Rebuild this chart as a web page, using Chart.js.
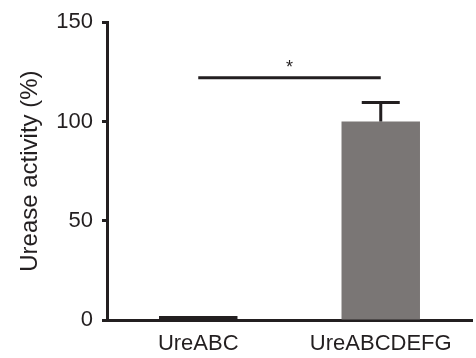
<!DOCTYPE html>
<html>
<head>
<meta charset="utf-8">
<script src="https://cdn.jsdelivr.net/npm/chart.js@4/dist/chart.umd.min.js"></script>
<style>
  html, body { margin: 0; padding: 0; background: #fff; }
  #wrap { width: 476px; height: 358px; }
</style>
</head>
<body>
<div id="wrap"><canvas id="bars"></canvas></div>
<script>
// data
var categories = ["UreABC", "UreABCDEFG"];
var activity = [2, 100];
var activityErr = [0, 9.5];
var sigLevel = [122, 122];
var sigLabel = "*";
var yTicks = [0, 50, 100, 150];

var ink = "#231f20";
var font = "'Liberation Sans', Arial, sans-serif";

// error bars (upper side only) + significance star
var extras = {
    id: "extras",
    afterDatasetsDraw: function(chart) {
        var ctx = chart.ctx;
        var xs = chart.scales.x, ys = chart.scales.y;
        ctx.save();
        ctx.strokeStyle = ink;
        ctx.lineWidth = 3;
        activity.forEach(function(v, i) {
            if (!activityErr[i]) return;
            var cx = xs.getPixelForValue(i);
            var y0 = ys.getPixelForValue(v);
            var y1 = ys.getPixelForValue(v + activityErr[i]);
            ctx.beginPath();
            ctx.moveTo(cx, y0);
            ctx.lineTo(cx, y1);
            ctx.moveTo(cx - 19, y1);
            ctx.lineTo(cx + 19, y1);
            ctx.stroke();
        });
        // star above the bracket
        var mx = (xs.getPixelForValue(0) + xs.getPixelForValue(1)) / 2;
        var my = ys.getPixelForValue(sigLevel[0]);
        ctx.fillStyle = ink;
        ctx.font = "18px " + font;
        ctx.textAlign = "center";
        ctx.textBaseline = "middle";
        ctx.fillText(sigLabel, mx, my - 10);
        ctx.restore();
    }
};

new Chart(document.getElementById("bars"), {
    data: {
        labels: categories,
        datasets: [
            {
                type: "bar",
                data: activity,
                backgroundColor: [ink, "#7a7675"],
                barPercentage: 0.43,
                categoryPercentage: 1.0
            },
            {
                type: "line",
                data: sigLevel,
                borderColor: ink,
                borderWidth: 3,
                pointRadius: 0
            }
        ]
    },
    options: {
        responsive: true,
        maintainAspectRatio: false,
        animation: false,
        layout: { padding: { left: 0, right: 4, top: 20, bottom: 0 } },
        plugins: { legend: { display: false }, tooltip: { enabled: false } },
        scales: {
            x: {
                grid: { display: false, drawTicks: false },
                border: { display: true, color: ink, width: 3 },
                ticks: { color: ink, padding: 11, font: { family: font, size: 22 } },
                afterFit: function(s) { s.height = 38; }
            },
            y: {
                min: 0,
                max: 150,
                afterBuildTicks: function(s) {
                    s.ticks = yTicks.map(function(v) { return { value: v }; });
                },
                grid: { drawOnChartArea: false, tickLength: 5, tickWidth: 3, tickColor: ink },
                border: { display: true, color: ink, width: 3 },
                ticks: { color: ink, padding: 9, font: { family: font, size: 22 } },
                title: {
                    display: true,
                    text: "Urease activity (%)",
                    color: ink,
                    padding: { top: 16, bottom: 0 },
                    font: { family: font, size: 24 }
                },
                afterFit: function(s) { s.width = 107; }
            }
        }
    },
    plugins: [extras]
});
</script>
</body>
</html>
